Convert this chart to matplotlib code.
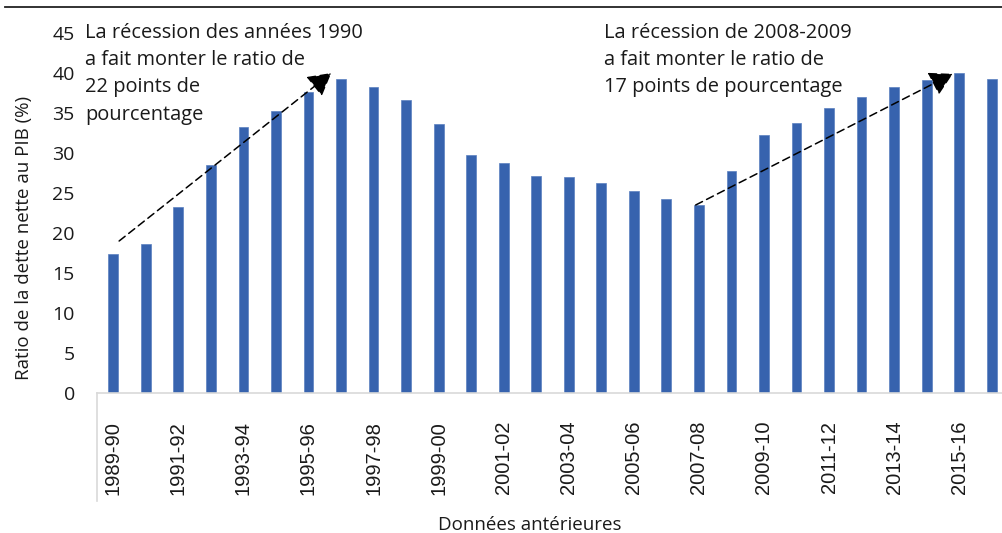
import matplotlib
matplotlib.use("Agg")
import matplotlib.pyplot as plt
from matplotlib.lines import Line2D

years = ["1989-90", "1990-91", "1991-92", "1992-93", "1993-94", "1994-95",
         "1995-96", "1996-97", "1997-98", "1998-99", "1999-00", "2000-01",
         "2001-02", "2002-03", "2003-04", "2004-05", "2005-06", "2006-07",
         "2007-08", "2008-09", "2009-10", "2010-11", "2011-12", "2012-13",
         "2013-14", "2014-15", "2015-16", "2016-17"]
ratio = [17.4, 18.6, 23.2, 28.5, 33.3, 35.2, 37.6, 39.2, 38.3, 36.6, 33.6,
         29.8, 28.8, 27.1, 27.0, 26.25, 25.3, 24.25, 23.5, 27.7, 32.2, 33.8,
         35.6, 37.0, 38.3, 39.1, 40.0, 39.3]
yticks = [0, 5, 10, 15, 20, 25, 30, 35, 40, 45]

plt.rcParams['font.family'] = ['Open Sans', 'DejaVu Sans']

fig = plt.figure(figsize=(10.02, 5.33), dpi=100)
ax = fig.add_axes([0.0968, 0.2627, 1.006 - 0.0968, 0.938 - 0.2627])

x = list(range(len(years)))
ax.bar(x, ratio, width=0.3, color='#3763ae', edgecolor='#5a80c0', linewidth=0.5, zorder=2)

ax.set_xlim(-0.5, len(years) - 0.5)
ax.set_ylim(0, 45)
ax.set_yticks(yticks)
ax.tick_params(axis='y', length=0, pad=16, labelsize=14, colors='#1a1a1a')
ax.set_xticks(x[::2])
ax.set_xticklabels(years[::2], rotation=90, fontsize=14.5, family='Liberation Sans', color='#1a1a1a')
ax.tick_params(axis='x', length=0, pad=20)

for s in ['top', 'right', 'left']:
    ax.spines[s].set_visible(False)
ax.spines['bottom'].set_color('#d9d9d9')
ax.spines['bottom'].set_linewidth(1.2)
# left boundary of the category axis, below the plot
ax.add_line(Line2D([0, 0], [0, -0.3], transform=ax.transAxes, color='#d9d9d9',
                   linewidth=1.2, clip_on=False))

ax.set_ylabel("Ratio de la dette nette au PIB (%)", fontsize=13.5, color='#1a1a1a')
ax.yaxis.set_label_coords(-0.07, 0.43)

fig.text(530 / 1002, 3 / 533, "Données antérieures", fontsize=13.5, color='#1a1a1a',
         ha='center', va='baseline')

# arrows
arrow_style = dict(arrowstyle='-|>,head_length=0.5,head_width=0.28', linestyle=(0, (5, 3)),
                   color='black', lw=1.1, mutation_scale=28, shrinkA=0, shrinkB=0)
ax.annotate("", xy=(6.7, 40.0), xytext=(0.18, 19.0), arrowprops=arrow_style)
ax.annotate("", xy=(25.8, 39.9), xytext=(17.9, 23.5), arrowprops=arrow_style)

fig.text(85 / 1002, 1 - 23 / 533,
         "La récession des années 1990\na fait monter le ratio de\n22 points de\npourcentage",
         fontsize=14.4, va='top', ha='left', linespacing=1.48, color='#1a1a1a')
fig.text(604 / 1002, 1 - 23 / 533,
         "La récession de 2008-2009\na fait monter le ratio de\n17 points de pourcentage",
         fontsize=14.4, va='top', ha='left', linespacing=1.48, color='#1a1a1a')

# top rule
fig.add_artist(Line2D([5 / 1002, 1.0], [1 - 7 / 533, 1 - 7 / 533], transform=fig.transFigure,
                      color='#222222', linewidth=1.3))

fig.savefig("out.png", dpi=100)
